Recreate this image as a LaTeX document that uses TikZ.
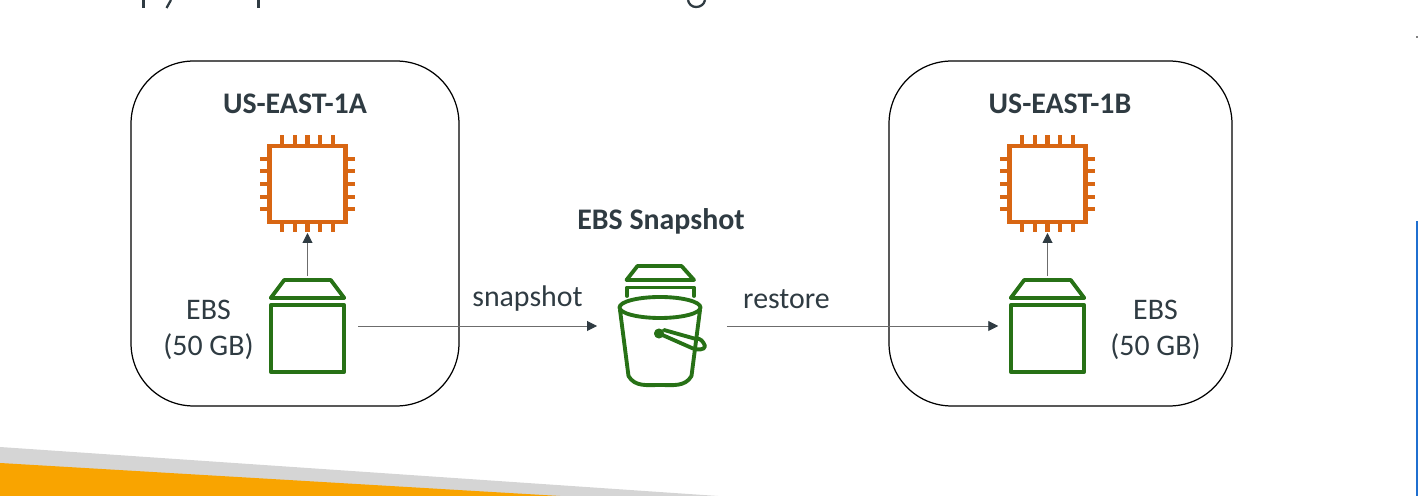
\documentclass[tikz,border=0pt]{standalone}
\usepackage{fontspec}
\setmainfont{Carlito}
\usepackage{xcolor}
\usetikzlibrary{calc,arrows.meta}
\definecolor{cpuorange}{HTML}{D86613}
\definecolor{ebsgreen}{HTML}{277116}
\definecolor{inkdark}{HTML}{2F3B42}
\definecolor{bandgray}{HTML}{D5D5D5}
\definecolor{bandorange}{HTML}{F9A400}
\definecolor{edgeblue}{HTML}{1F6FD0}
\tikzset{
  zonebox/.style={draw=black,line width=0.7pt,rounded corners=1.25cm,minimum height=6.9cm,outer sep=0pt},
  cpubox/.style={draw=cpuorange,line width=2.3pt,minimum width=1.52cm,minimum height=1.52cm,outer sep=0pt},
  pin/.style={cpuorange,line width=2.3pt},
  volbox/.style={draw=ebsgreen,line width=2.2pt,line join=round,minimum width=1.47cm,minimum height=1.33cm,outer sep=0pt},
  lidbox/.style={minimum width=1.47cm,minimum height=0.36cm,inner sep=0pt,outer sep=0pt},
  bucketline/.style={draw=ebsgreen,line width=2.2pt,line join=round,line cap=round},
  conn/.style={draw=gray!85!black,line width=0.55pt,-{Triangle[length=0.2cm,width=0.2cm,color=inkdark]}},
  title/.style={font=\fontsize{17}{20}\selectfont\bfseries,text=inkdark,inner sep=0pt},
  label/.style={font=\fontsize{17}{20.4}\selectfont,text=inkdark,inner sep=0pt}
}
\begin{document}
\begin{tikzpicture}[x=0.02cm,y=-0.02cm]
\useasboundingbox (0,0) rectangle (1418,496);
% bottom bands
\fill [bandgray] (0,447) -- (718,496) -- (0,496) --cycle;
\fill [bandorange] (0,463) -- (560,496) -- (0,496) --cycle;
% right edge
\fill [edgeblue] (1416,221) rectangle (1418,496);
\fill [gray] (1416,36) rectangle (1418,38);
% cut off heading
\draw [inkdark,line width=1.3pt] (143.5,0) -- (143.5,8);
\draw [inkdark,line width=1.3pt] (171,0) -- (166.5,8);
\draw [inkdark,line width=1.3pt] (258.5,0) -- (258.5,8);
\draw [inkdark,line width=1.3pt] (688,0) to [out=-80,in=180] (696,7) to [out=0,in=-100] (705,0);
% zones
\node [zonebox,minimum width=6.56cm] (zoneA) at (295,233.5) {};
\node [zonebox,minimum width=6.86cm] (zoneB) at (1060.5,233.5) {};
\node [title] (titleA) at (295,104) {US-EAST-1A};
\node [title] (titleB) at (1060,104) {US-EAST-1B};
\node [title] (titleS) at (661,221) {EBS Snapshot};
% instances and volumes
\foreach \zn/\dx in {A/0,B/740}{
  \node [cpubox] (cpu\zn) at (307.5+\dx,184) {};
  \foreach \p in {-2,...,2}{
    \draw [pin] ($(cpu\zn.north)+(12.7*\p,0)$) -- ++(0,-11);
    \draw [pin] ($(cpu\zn.south)+(12.7*\p,0)$) -- ++(0,10);
    \draw [pin] ($(cpu\zn.west)+(0,12.7*\p)$) -- ++(-10,0);
    \draw [pin] ($(cpu\zn.east)+(0,12.7*\p)$) -- ++(10,0);
  }
  \node [lidbox] (lid\zn) at (307.5+\dx,289) {};
  \draw [draw=ebsgreen,line width=2.2pt,line join=round] (lid\zn.south west) -- ($(lid\zn.north west)+(13.5,0)$) -- ($(lid\zn.north east)+(-13.5,0)$) -- (lid\zn.south east) --cycle;
  \node [volbox] (vol\zn) at (307.5+\dx,338.5) {};
  \draw [conn,shorten <=0.08cm,shorten >=0.22cm] (lid\zn.north) -- (cpu\zn.south);
}
\node [label,align=center] (ebsA) at (208.5,330) {EBS\\(50 GB)};
\node [label,align=center] (ebsB) at (1155.5,330) {EBS\\(50 GB)};
% bucket
\node [minimum width=2.6cm,minimum height=2.4cm,inner sep=0pt,outer sep=0pt] (bucket) at (662,326) {};
\draw [bucketline] (637.5,266) -- (681.5,266) -- (694,280) -- (626.5,280) --cycle;
\draw [bucketline] (627,296) -- (627,287.5) -- (694,287.5) -- (694,296);
\draw [bucketline] (660,307.5) ellipse [x radius=40.5,y radius=10.5];
\draw [bucketline] (620,310) -- (628.5,376) to [out=-60,in=180] (660,385) to [out=0,in=-120] (691.5,376) -- (700,310);
\draw [bucketline] (659,333.5) -- (693,348.5) to [out=-20,in=-90,looseness=0.9] (705,346) to [out=110,in=20] (696,339) -- (664,330);
\draw [bucketline,fill=ebsgreen] (659,333.5) circle [radius=3];
% arrows
\draw [conn] ($(volA.east)+(14,-12.5)$) -- (bucket.west);
\draw [conn] (bucket.east) -- ($(volB.west)+(-12.5,-12.5)$);
\node [label] (snapL) at (527.5,298.5) {snapshot};
\node [label] (restL) at (786.5,299) {restore};
\end{tikzpicture}
\end{document}
